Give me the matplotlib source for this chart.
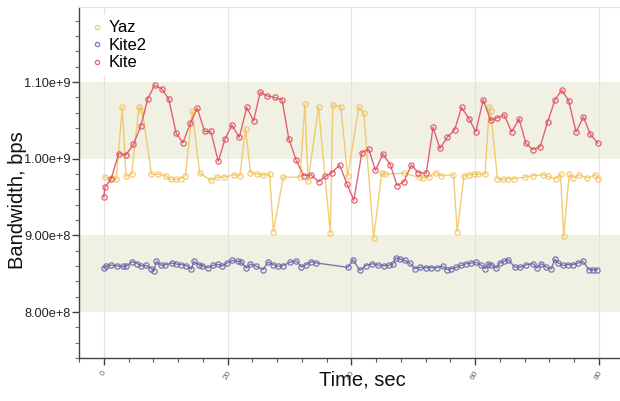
import matplotlib
matplotlib.use("Agg")
import matplotlib.pyplot as plt
from matplotlib.ticker import MultipleLocator, FixedLocator

plt.rcParams['font.family'] = ['Liberation Sans', 'DejaVu Sans']

# ---- data ----
kite_t = [0.0, 0.2, 1.2, 2.4, 3.6, 4.8, 6.0, 7.1, 8.2, 9.4, 10.5, 11.7, 12.8, 14.0, 15.1,
          16.3, 17.3, 18.5, 19.6, 20.7, 21.9, 23.1, 24.2, 25.3, 26.4, 27.6, 28.8, 29.9,
          31.1, 32.3, 33.5, 34.7, 35.8, 36.9, 38.1, 39.3, 40.4, 41.7, 42.8, 43.9, 45.1,
          46.3, 47.4, 48.5, 49.7, 50.8, 52.1, 53.2, 54.3, 55.5, 56.7, 57.8, 59.0, 60.1,
          61.3, 62.5, 63.6, 64.7, 65.9, 67.1, 68.2, 69.3, 70.5, 71.7, 72.9, 74.0, 75.1,
          76.3, 77.5, 78.6, 79.8]
kite_v = [9.50e8, 9.63e8, 9.74e8, 1.0065e9, 1.005e9, 1.019e9, 1.043e9, 1.078e9, 1.096e9,
          1.091e9, 1.078e9, 1.033e9, 1.021e9, 1.0465e9, 1.066e9, 1.0356e9, 1.0356e9,
          9.965e8, 1.026e9, 1.044e9, 1.028e9, 1.067e9, 1.0495e9, 1.087e9, 1.082e9,
          1.080e9, 1.077e9, 1.026e9, 9.98e8, 9.78e8, 9.79e8, 9.70e8, 9.77e8, 9.82e8,
          9.92e8, 9.67e8, 9.46e8, 1.008e9, 1.0126e9, 9.85e8, 1.0065e9, 9.92e8, 9.65e8,
          9.70e8, 9.92e8, 9.82e8, 9.81e8, 1.041e9, 1.0134e9, 1.028e9, 1.038e9, 1.067e9,
          1.0525e9, 1.035e9, 1.077e9, 1.050e9, 1.0535e9, 1.057e9, 1.035e9, 1.052e9,
          1.020e9, 1.012e9, 1.0156e9, 1.048e9, 1.077e9, 1.0896e9, 1.076e9, 1.035e9,
          1.0544e9, 1.032e9, 1.0205e9]

yaz_t = [0.2, 1.35, 2.0, 3.0, 3.6, 4.5, 5.7, 6.25, 7.7, 8.7, 10.0, 10.8, 11.7, 12.4, 13.2,
         14.3, 15.5, 17.3, 18.3, 19.5, 21.0, 22.0, 22.9, 23.7, 24.8, 25.8, 26.8, 27.4,
         29.0, 31.7, 32.5, 33.0, 34.7, 36.6, 37.0, 38.3, 39.4, 41.2, 42.0, 43.6, 44.9,
         45.4, 48.5, 50.9, 51.5, 52.5, 53.6, 54.5, 56.5, 57.1, 58.2, 59.0, 59.8, 60.4,
         61.6, 62.3, 62.5, 63.6, 64.5, 65.3, 66.3, 68.0, 69.3, 71.0, 71.7, 73.0, 73.8,
         74.3, 75.2, 75.8, 76.7, 78.1, 79.4, 79.9]
yaz_v = [9.76e8, 9.75e8, 9.73e8, 1.067e9, 9.77e8, 9.80e8, 1.068e9, 1.062e9, 9.80e8, 9.80e8,
         9.78e8, 9.73e8, 9.73e8, 9.74e8, 9.78e8, 1.0626e9, 9.81e8, 9.72e8, 9.76e8, 9.76e8,
         9.79e8, 9.78e8, 1.039e9, 9.82e8, 9.80e8, 9.79e8, 9.80e8, 9.05e8, 9.76e8, 9.76e8,
         1.071e9, 9.71e8, 1.067e9, 9.03e8, 1.070e9, 1.068e9, 9.77e8, 1.067e9, 1.060e9,
         8.97e8, 9.81e8, 9.80e8, 9.81e8, 9.76e8, 9.75e8, 9.76e8, 9.82e8, 9.78e8, 9.79e8,
         9.05e8, 9.78e8, 9.79e8, 9.80e8, 9.80e8, 9.80e8, 1.068e9, 1.062e9, 9.74e8, 9.73e8,
         9.74e8, 9.74e8, 9.76e8, 9.78e8, 9.79e8, 9.77e8, 9.74e8, 9.80e8, 8.99e8, 9.80e8,
         9.75e8, 9.79e8, 9.75e8, 9.79e8, 9.74e8]

kite2_t = [0.05, 0.32, 1.24, 2.15, 3.12, 3.66, 4.63, 5.44, 6.08, 6.89, 7.70, 8.08, 8.51,
           9.26, 9.85, 10.99, 11.74, 12.55, 13.36, 14.17, 14.54, 15.35, 15.94, 16.86,
           17.66, 18.47, 19.17, 19.92, 20.73, 21.70, 22.24, 23.05, 23.70, 24.67, 25.74,
           26.55, 27.36, 28.16, 28.97, 30.05, 31.13, 31.94, 32.74, 33.55, 34.36,
           39.47, 40.28, 41.36, 42.33, 43.41, 44.32, 45.23, 46.09, 46.74, 47.17, 47.82,
           48.63, 49.43, 50.24, 51.16, 52.02, 52.94, 53.85, 54.82, 55.52, 56.17, 56.98,
           57.79, 58.59, 59.40, 60.21, 61.02, 61.66, 62.09, 62.63, 63.44, 63.97, 64.62,
           65.32, 66.40, 67.31, 68.28, 69.36, 70.00, 70.71, 71.52, 72.33, 72.86, 73.40,
           74.20, 75.01, 75.82, 76.63, 77.43, 78.40, 79.05, 79.75]
kite2_v = [8.574e8, 8.596e8, 8.613e8, 8.600e8, 8.596e8, 8.600e8, 8.657e8, 8.631e8, 8.600e8,
           8.609e8, 8.566e8, 8.539e8, 8.661e8, 8.609e8, 8.613e8, 8.640e8, 8.626e8, 8.618e8,
           8.605e8, 8.561e8, 8.661e8, 8.618e8, 8.605e8, 8.579e8, 8.609e8, 8.622e8, 8.600e8,
           8.640e8, 8.674e8, 8.661e8, 8.648e8, 8.574e8, 8.626e8, 8.596e8, 8.553e8, 8.653e8,
           8.618e8, 8.596e8, 8.605e8, 8.648e8, 8.666e8, 8.587e8, 8.618e8, 8.657e8, 8.640e8,
           8.583e8, 8.683e8, 8.544e8, 8.605e8, 8.631e8, 8.613e8, 8.605e8, 8.609e8, 8.626e8,
           8.705e8, 8.692e8, 8.674e8, 8.640e8, 8.566e8, 8.583e8, 8.579e8, 8.579e8, 8.579e8,
           8.596e8, 8.553e8, 8.566e8, 8.583e8, 8.609e8, 8.631e8, 8.640e8, 8.648e8, 8.609e8,
           8.566e8, 8.631e8, 8.618e8, 8.574e8, 8.640e8, 8.661e8, 8.683e8, 8.587e8, 8.583e8,
           8.618e8, 8.631e8, 8.574e8, 8.631e8, 8.583e8, 8.566e8, 8.692e8, 8.640e8, 8.609e8,
           8.618e8, 8.618e8, 8.640e8, 8.661e8, 8.553e8, 8.553e8, 8.553e8]

bands = [(8.0e8, 9.0e8), (1.0e9, 1.1e9)]
x_ticks = [0, 20, 40, 60, 80]
y_ticks = [8.0e8, 9.0e8, 1.0e9, 1.1e9]
y_ticklabels = ["8.00e+8", "9.00e+8", "1.00e+9", "1.10e+9"]

# ---- figure ----
fig = plt.figure(figsize=(6.20, 4.01), dpi=100)
ax = fig.add_axes([0.1274, 0.1072, 0.8726, 0.8753])

for lo, hi in bands:
    ax.axhspan(lo, hi, color='#f0f0e3', zorder=0, lw=0)

ax.set_xlim(-4.0, 83.4)
ax.set_ylim(7.40e8, 1.198e9)

ax.xaxis.set_major_locator(FixedLocator(x_ticks))
ax.xaxis.set_minor_locator(MultipleLocator(4))
ax.yaxis.set_major_locator(FixedLocator(y_ticks))
ax.set_yticklabels(y_ticklabels)
ax.yaxis.set_minor_locator(MultipleLocator(2e7))
ax.grid(True, axis='x', which='major', color='#e2e2e2', lw=0.8, zorder=0.5)
ax.set_axisbelow(True)

mk = dict(marker='o', markersize=3.8, markerfacecolor='none', markeredgewidth=0.9, lw=1.0, alpha=0.85)
ax.plot(yaz_t, yaz_v, color='#f2c35a', label='Yaz', zorder=3, **mk)
ax.plot(kite2_t, kite2_v, color='#6464a8', label='Kite2', zorder=3, **mk)
ax.plot(kite_t, kite_v, color='#e04a5c', label='Kite', zorder=4, **mk)

for s in ['left', 'bottom']:
    ax.spines[s].set_color('#444444')
    ax.spines[s].set_linewidth(1.0)
ax.spines['top'].set_color('#e6e6e6')
ax.spines['right'].set_visible(False)

ax.tick_params(axis='y', which='major', direction='out', length=5, width=1, color='#444444',
               labelsize=9.2, labelcolor='#222222', pad=1)
ax.tick_params(axis='y', which='minor', direction='out', length=3, width=0.8, color='#777777')
ax.tick_params(axis='x', which='major', direction='out', length=5, width=1, color='#444444',
               labelsize=6, labelcolor='#666666', pad=3)
ax.tick_params(axis='x', which='minor', direction='out', length=3, width=0.8, color='#555555')
for lbl in ax.get_xticklabels():
    lbl.set_rotation(60)
    lbl.set_ha('center')
    lbl.set_va('top')

ax.set_xlabel('Time, sec', fontsize=14.5, color='#111111')
ax.set_ylabel('Bandwidth, bps', fontsize=14.5, color='#111111')
ax.xaxis.set_label_coords(0.523, -0.062, transform=ax.transAxes)
ax.yaxis.set_label_coords(-0.114, 0.45, transform=ax.transAxes)
ax.xaxis.label.set_va('center')
ax.yaxis.label.set_va('center')

leg = ax.legend(loc='upper left', bbox_to_anchor=(0.0, 1.0), fontsize=12, frameon=True,
                framealpha=1.0, edgecolor='white', handlelength=0.6, handletextpad=0.4,
                labelspacing=0.15, borderaxespad=0.5, borderpad=0.3, markerscale=0.8)
for h in leg.legend_handles:
    h.set_linestyle('none')

fig.savefig('out.png', dpi=100)
